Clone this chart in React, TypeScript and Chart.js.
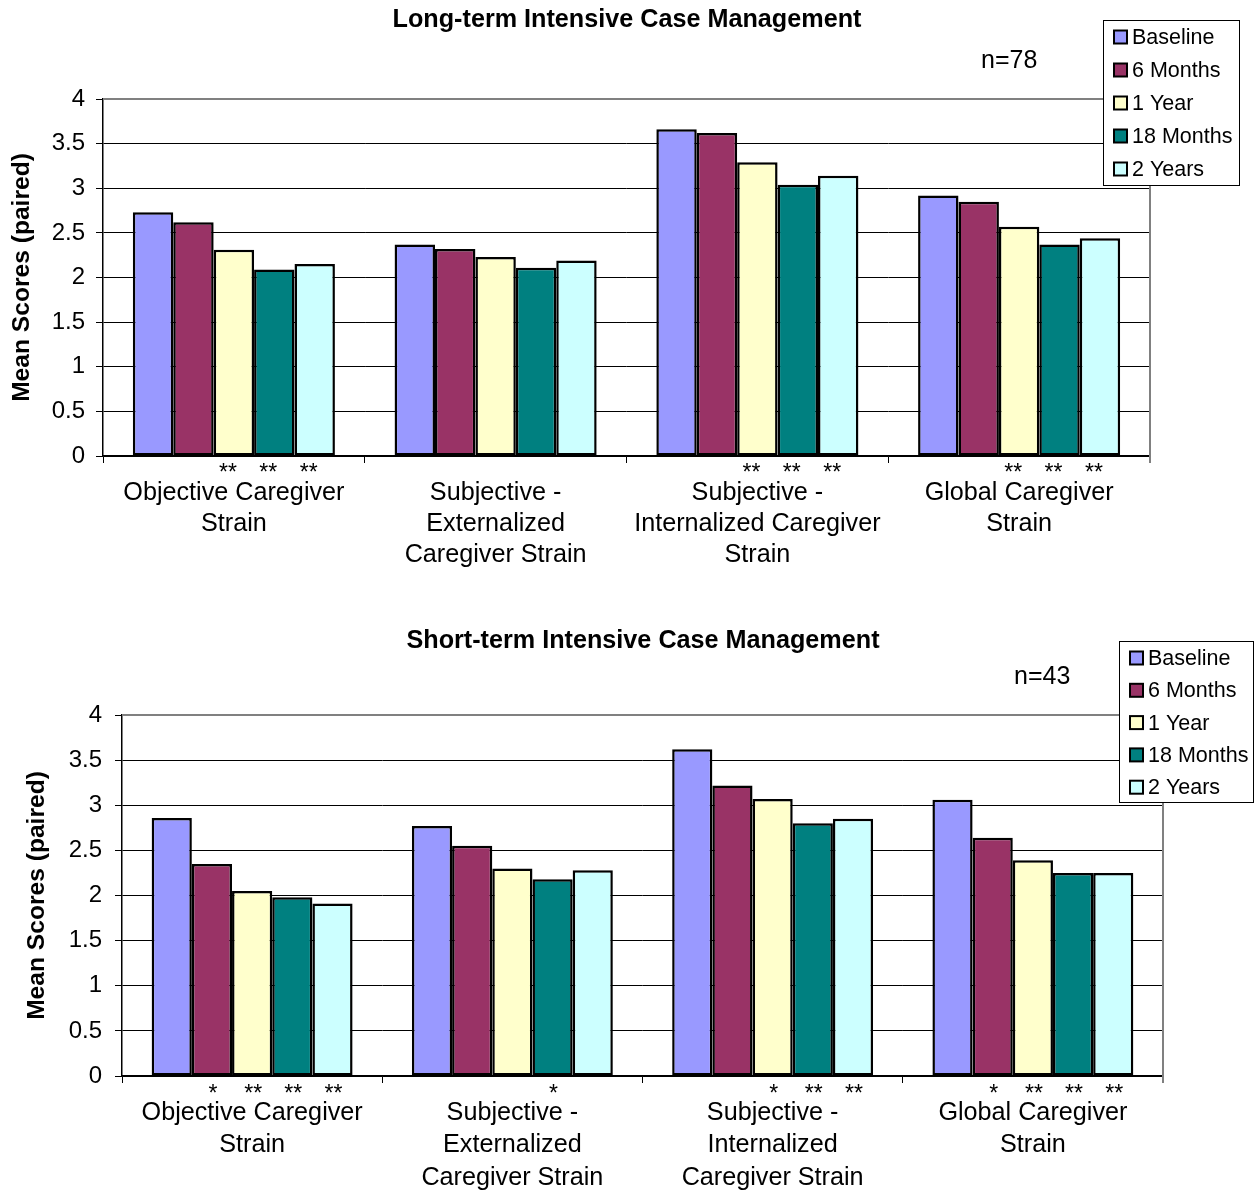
import React, { useEffect, useRef } from 'react';
import { Chart, registerables } from 'chart.js';

Chart.register(...registerables);

// ---------- data ----------
const seriesNames = ['Baseline', '6 Months', '1 Year', '18 Months', '2 Years'];
const seriesColors = ['#9999FF', '#993366', '#FFFFCC', '#008080', '#CCFFFF'];
const yTickValues = [0, 0.5, 1, 1.5, 2, 2.5, 3, 3.5, 4];

const longCategories = [
  ['Objective Caregiver', 'Strain'],
  ['Subjective -', 'Externalized', 'Caregiver Strain'],
  ['Subjective -', 'Internalized Caregiver', 'Strain'],
  ['Global Caregiver', 'Strain'],
];
const longBaseline = [2.73, 2.37, 3.66, 2.92];
const long6Months = [2.62, 2.32, 3.62, 2.85];
const long1Year = [2.31, 2.23, 3.29, 2.57];
const long18Months = [2.09, 2.11, 3.04, 2.37];
const long2Years = [2.15, 2.19, 3.14, 2.44];
const longSig = [
  ['', '', '', ''],
  ['', '', '', ''],
  ['**', '', '**', '**'],
  ['**', '', '**', '**'],
  ['**', '', '**', '**'],
];

const shortCategories = [
  ['Objective Caregiver', 'Strain'],
  ['Subjective -', 'Externalized', 'Caregiver Strain'],
  ['Subjective -', 'Internalized', 'Caregiver Strain'],
  ['Global Caregiver', 'Strain'],
];
const shortBaseline = [2.86, 2.77, 3.62, 3.06];
const short6Months = [2.35, 2.55, 3.22, 2.64];
const short1Year = [2.05, 2.3, 3.07, 2.39];
const short18Months = [1.98, 2.18, 2.8, 2.25];
const short2Years = [1.91, 2.28, 2.85, 2.25];
const shortSig = [
  ['', '', '', ''],
  ['*', '', '', '*'],
  ['**', '', '*', '**'],
  ['**', '*', '**', '**'],
  ['**', '', '**', '**'],
];

const yAxisTitle = 'Mean Scores (paired)';

// ---------- layout ----------
const W = 1254;
const FONT = "'Liberation Sans', Arial, sans-serif";

type Spec = {
  top: number;
  height: number;
  title: string;
  nText: string;
  categories: string[][];
  values: number[][];
  sig: string[][];
  area: { top: number; bottom: number; left: number; right: number };
  titleX: number;
  titleY: number;
  nX: number;
  nY: number;
  legend: { x: number; y: number; w: number; h: number; y0: number; step: number; markerX: number; textX: number };
  yTitlePad: number;
  yTickPad: number;
  xPad: number;
  xLineHeight: number;
  starBaseline: number;
  starOffset: number;
};

const specs: Spec[] = [
  {
    top: 0,
    height: 600,
    title: 'Long-term Intensive Case Management',
    nText: 'n=78',
    categories: longCategories,
    values: [longBaseline, long6Months, long1Year, long18Months, long2Years],
    sig: longSig,
    area: { top: 99, bottom: 456, left: 103, right: 1150 },
    titleX: 627,
    titleY: 20,
    nX: 981,
    nY: 61,
    legend: { x: 1103, y: 20, w: 136, h: 165, y0: 37, step: 33, markerX: 1114, textX: 1132 },
    yTitlePad: 7.2,
    yTickPad: 11,
    xPad: 14.5,
    xLineHeight: 31,
    starBaseline: 480,
    starOffset: -6,
  },
  {
    top: 600,
    height: 593,
    title: 'Short-term Intensive Case Management',
    nText: 'n=43',
    categories: shortCategories,
    values: [shortBaseline, short6Months, short1Year, short18Months, short2Years],
    sig: shortSig,
    area: { top: 115, bottom: 476, left: 122, right: 1163 },
    titleX: 643,
    titleY: 41,
    nX: 1014,
    nY: 77,
    legend: { x: 1119, y: 41, w: 134, h: 161, y0: 58, step: 32.3, markerX: 1130, textX: 1148 },
    yTitlePad: 22.2,
    yTickPad: 13,
    xPad: 13.75,
    xLineHeight: 32.5,
    starBaseline: 501,
    starOffset: 1,
  },
];

function decor(s: Spec) {
  return {
    id: 'decor',
    afterDraw(chart: any) {
      const ctx = chart.ctx as CanvasRenderingContext2D;
      const a = chart.chartArea;
      ctx.save();
      // grey frame top + right
      ctx.strokeStyle = '#808080';
      ctx.lineWidth = 2;
      ctx.beginPath();
      ctx.moveTo(a.left, a.top);
      ctx.lineTo(a.right, a.top);
      ctx.lineTo(a.right, a.bottom + 7);
      ctx.stroke();

      // significance markers
      ctx.fillStyle = '#000';
      ctx.font = `23px ${FONT}`;
      ctx.textAlign = 'center';
      ctx.textBaseline = 'alphabetic';
      s.sig.forEach((row, i) => {
        const meta = chart.getDatasetMeta(i);
        row.forEach((txt, j) => {
          if (!txt) return;
          const el = meta.data[j];
          ctx.fillText(txt, el.x + s.starOffset, s.starBaseline);
        });
      });

      // title
      ctx.font = `bold 25.2px ${FONT}`;
      ctx.textAlign = 'center';
      ctx.textBaseline = 'middle';
      ctx.fillText(s.title, s.titleX, s.titleY);

      // n text
      ctx.font = `25px ${FONT}`;
      ctx.textAlign = 'left';
      ctx.fillText(s.nText, s.nX, s.nY);

      // legend
      const L = s.legend;
      ctx.fillStyle = '#fff';
      ctx.fillRect(L.x, L.y, L.w, L.h);
      ctx.strokeStyle = '#000';
      ctx.lineWidth = 1;
      ctx.strokeRect(L.x + 0.5, L.y + 0.5, L.w, L.h);
      ctx.font = `21.5px ${FONT}`;
      ctx.textAlign = 'left';
      ctx.textBaseline = 'middle';
      chart.data.datasets.forEach((ds: any, i: number) => {
        const y = L.y0 + i * L.step;
        ctx.fillStyle = ds.backgroundColor;
        ctx.fillRect(L.markerX, y - 6.5, 13, 13);
        ctx.strokeStyle = '#000';
        ctx.lineWidth = 2;
        ctx.strokeRect(L.markerX, y - 6.5, 13, 13);
        ctx.fillStyle = '#000';
        ctx.fillText(ds.label, L.textX, y + 1);
      });
      ctx.restore();
    },
  };
}

function Panel({ spec }: { spec: Spec }) {
  const ref = useRef<HTMLCanvasElement>(null);
  useEffect(() => {
    const s = spec;
    const chart = new Chart(ref.current as HTMLCanvasElement, {
      type: 'bar',
      data: {
        labels: s.categories as any,
        datasets: seriesNames.map((name, i) => ({
          label: name,
          data: s.values[i],
          backgroundColor: seriesColors[i],
          borderColor: '#000',
          borderWidth: 2.5,
          borderSkipped: false,
          categoryPercentage: 0.772,
          barPercentage: 1,
        })),
      },
      options: {
        responsive: false,
        animation: false,
        devicePixelRatio: 1,
        layout: { padding: { top: s.area.top, right: W - s.area.right, left: 0, bottom: 0 } },
        plugins: {
          legend: { display: false },
          tooltip: { enabled: false },
          title: { display: false },
        },
        scales: {
          x: {
            afterFit: (sc: any) => {
              sc.height = s.height - s.area.bottom;
            },
            grid: { drawOnChartArea: false, drawTicks: true, tickLength: 7, color: '#000', lineWidth: 1 },
            border: { color: '#000', width: 1.5 },
            ticks: {
              color: '#000',
              font: { family: FONT, size: 25.2, lineHeight: s.xLineHeight + 'px' },
              padding: s.xPad,
              maxRotation: 0,
              minRotation: 0,
              autoSkip: false,
            },
          },
          y: {
            min: 0,
            max: 4,
            afterFit: (sc: any) => {
              sc.width = s.area.left;
            },
            afterBuildTicks: (sc: any) => {
              sc.ticks = yTickValues.map((v) => ({ value: v }));
            },
            grid: { color: '#000', lineWidth: 1, tickLength: 7 },
            border: { color: '#000', width: 1.5 },
            ticks: {
              color: '#000',
              font: { family: FONT, size: 24 },
              padding: s.yTickPad,
              callback: (v: any) => String(v),
            },
            title: {
              display: true,
              text: yAxisTitle,
              color: '#000',
              font: { family: FONT, size: 24.6, weight: 'bold' },
              padding: { top: s.yTitlePad, bottom: 0 },
            },
          },
        },
      } as any,
      plugins: [decor(s)],
    });
    return () => chart.destroy();
  }, [spec]);
  return (
    <canvas
      ref={ref}
      width={W}
      height={spec.height}
      style={{ position: 'absolute', left: 0, top: spec.top, display: 'block' }}
    />
  );
}

export default function App() {
  return (
    <div style={{ position: 'absolute', left: 0, top: 0, width: W, height: 1193, background: '#fff' }}>
      {specs.map((s, i) => (
        <Panel key={i} spec={s} />
      ))}
    </div>
  );
}
